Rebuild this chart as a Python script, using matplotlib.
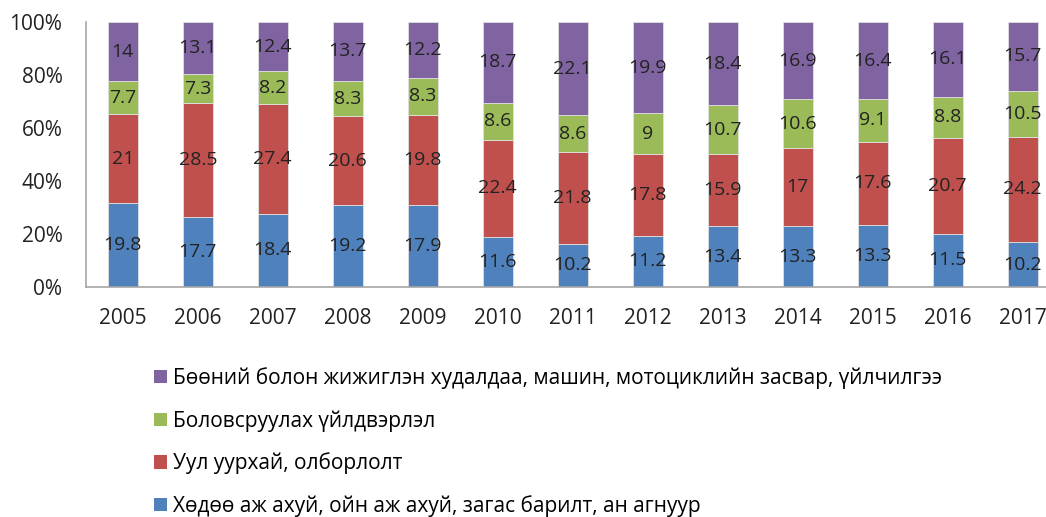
import numpy as np
import matplotlib
matplotlib.use('Agg')
import matplotlib.pyplot as plt
from matplotlib.patches import Patch

plt.rcParams['font.family'] = ['Open Sans', 'DejaVu Sans']

years = ['2005', '2006', '2007', '2008', '2009', '2010', '2011', '2012',
         '2013', '2014', '2015', '2016', '2017']
agri = [19.8, 17.7, 18.4, 19.2, 17.9, 11.6, 10.2, 11.2, 13.4, 13.3, 13.3, 11.5, 10.2]
mining = [21, 28.5, 27.4, 20.6, 19.8, 22.4, 21.8, 17.8, 15.9, 17, 17.6, 20.7, 24.2]
manuf = [7.7, 7.3, 8.2, 8.3, 8.3, 8.6, 8.6, 9, 10.7, 10.6, 9.1, 8.8, 10.5]
trade = [14, 13.1, 12.4, 13.7, 12.2, 18.7, 22.1, 19.9, 18.4, 16.9, 16.4, 16.1, 15.7]

names = ['Хөдөө аж ахуй, ойн аж ахуй, загас барилт, ан агнуур',
         'Уул уурхай, олборлолт',
         'Боловсруулах үйлдвэрлэл',
         'Бөөний болон жижиглэн худалдаа, машин, мотоциклийн засвар, үйлчилгээ']
colors = ['#4F81BD', '#C0504D', '#9BBB59', '#8064A2']

series = [agri, mining, manuf, trade]
data = np.array(series, dtype=float)
totals = data.sum(axis=0)
pct = data / totals * 100

fig = plt.figure(figsize=(10.46, 5.17), dpi=100)
ax = fig.add_axes([86 / 1046, (517 - 287) / 517, 1 - 86 / 1046, 265 / 517])

x = np.arange(len(years))
bottom = np.zeros(len(years))
for vals, p, c in zip(series, pct, colors):
    ax.bar(x, p, 0.4, bottom=bottom, color=c, edgecolor='#e0e0e0', linewidth=0.6)
    for xi, b, h, v in zip(x, bottom, p, vals):
        ax.text(xi, b + h / 2, f'{v:g}', ha='center', va='center',
                fontsize=14, color='#222222')
    bottom += p

ax.set_xlim(-0.49, 12.31)
ax.set_ylim(0, 100)
ax.set_yticks(range(0, 101, 20))
ax.set_yticklabels([f'{v}%' for v in range(0, 101, 20)])
ax.set_xticks(x)
ax.set_xticklabels(years)
ax.tick_params(axis='both', length=0, labelsize=15, colors='#222222')
ax.tick_params(axis='y', pad=17)
ax.tick_params(axis='x', pad=15)
for s in ['top', 'right']:
    ax.spines[s].set_visible(False)
for s in ['left', 'bottom']:
    ax.spines[s].set_color('#a6a6a6')
    ax.spines[s].set_linewidth(1.2)

handles = [Patch(facecolor=c) for c in colors][::-1]
fig.legend(handles, names[::-1], loc='upper left', bbox_to_anchor=(146 / 1046, 1 - 359 / 517),
           frameon=False, fontsize=15, labelspacing=1.0, handlelength=0.6,
           handleheight=0.6, handletextpad=0.3, borderaxespad=0)

fig.savefig('out.png', dpi=100)
